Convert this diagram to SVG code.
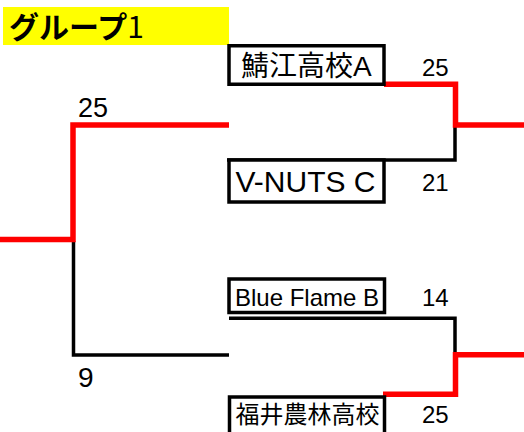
<svg xmlns="http://www.w3.org/2000/svg" width="524" height="432" viewBox="0 0 524 432">
<style>
.box{fill:#fff;stroke:#000;stroke-width:3.5}
.t{font-family:"Liberation Sans","Noto Sans CJK JP",Arial,sans-serif;fill:#000}
.win{fill:none;stroke:#f00;stroke-width:5.5;stroke-linejoin:miter;stroke-linecap:butt}
.lose{fill:none;stroke:#000;stroke-width:3.5;stroke-linejoin:miter;stroke-linecap:butt}
</style>
<rect width="524" height="432" fill="#fff"/>
<g id="title">
<rect x="3" y="7" width="226" height="38" fill="#ff0"/>
<text x="9" y="37.5" font-family="'Noto Sans CJK JP',sans-serif" font-size="30" font-weight="bold">グループ<tspan font-weight="normal">1</tspan></text>
</g>
<g id="connectors">
<polyline class="lose" points="73.5,241 73.5,355 229,355"/>
<polyline class="win" points="0,239.5 73,239.5 73,125 229,125"/>
<polyline class="lose" points="227,160 455,160 455,125"/>
<polyline class="win" points="384,84.3 455.5,84.3 455.5,125 524,125"/>
<polyline class="lose" points="229,318.3 455,318.3 455,355"/>
<polyline class="win" points="383,394.2 455.5,394.2 455.5,354.8 524,354.8"/>
</g>
<g id="node1">
<rect class="box" x="229" y="45.75" width="155" height="38.5"/>
<text class="t" x="241" y="76" font-size="28">鯖江高校A</text>
</g>
<g id="node2">
<rect class="box" x="229" y="160" width="155" height="42"/>
<text class="t" x="235.5" y="192.3" font-size="30">V-NUTS C</text>
</g>
<g id="node3">
<rect class="box" x="229" y="279" width="155.5" height="33.5"/>
<text class="t" x="235" y="306" font-size="24">Blue Flame B</text>
</g>
<g id="node4">
<rect class="box" x="229.5" y="397" width="155" height="60"/>
<text class="t" x="235.5" y="423.3" font-size="24">福井農林高校</text>
</g>
<g id="scores">
<text class="t" x="78" y="116.5" font-size="27">25</text>
<text class="t" x="78" y="386.5" font-size="28">9</text>
<text class="t" x="422" y="76" font-size="24">25</text>
<text class="t" x="422" y="191" font-size="24">21</text>
<text class="t" x="422" y="306" font-size="24">14</text>
<text class="t" x="422" y="423" font-size="24">25</text>
</g>
</svg>
